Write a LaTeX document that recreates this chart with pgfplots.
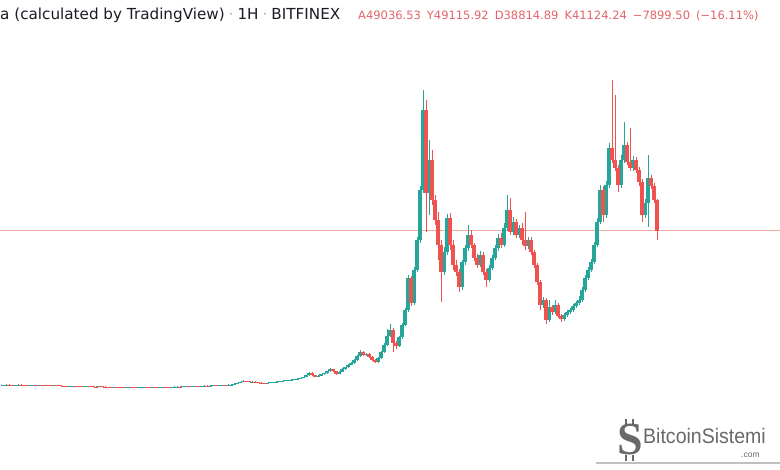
\documentclass[border=0pt]{standalone}
\usepackage{pgfplots}
\pgfplotsset{compat=1.18}
\usepackage{pgfplotstable}
\usepackage{fontspec}
\setmainfont{DejaVu Sans}
\newfontfamily\wmfont{Liberation Sans}
\newfontfamily\logofont{Liberation Serif}
\definecolor{upc}{HTML}{26A69A}
\definecolor{dnc}{HTML}{EF5350}
\definecolor{pline}{RGB}{242,170,160}
\definecolor{hdr}{RGB}{25,28,36}
\definecolor{sepc}{RGB}{170,172,180}
\definecolor{ohlc}{RGB}{226,100,104}
\definecolor{wm}{RGB}{105,105,105}

% columns: i = candle index, o h l c = open high low close
\pgfplotstableread{
i o h l c
0 1780 1900 1700 1820
1 1820 1950 1760 1850
4 1760 1870 1700 1790
5 1790 1980 1740 1900
9 1680 1820 1620 1750
10 1750 1870 1700 1800
12 1780 1900 1730 1820
17 1650 1850 1600 1780
22 1480 1580 1420 1500
23 1500 1640 1450 1560
27 1400 1490 1350 1420
28 1420 1550 1370 1480
32 1380 1480 1320 1420
37 1240 1340 1190 1280
41 1180 1280 1130 1220
42 1220 1310 1170 1260
45 1190 1270 1140 1210
46 1210 1300 1160 1250
47 1250 1360 1200 1300
50 1220 1300 1170 1250
52 1240 1330 1190 1280
53 1280 1380 1230 1320
56 1270 1370 1220 1320
57 1320 1420 1270 1360
58 1360 1460 1310 1400
60 1380 1480 1330 1420
61 1420 1520 1370 1460
63 1440 1560 1390 1500
64 1500 1620 1450 1560
66 1520 1640 1470 1580
67 1580 1690 1530 1620
69 1600 1710 1550 1650
70 1650 1770 1600 1700
72 1680 1800 1630 1740
73 1740 1870 1690 1800
75 1780 1920 1730 1850
76 1850 1980 1800 1900
77 1900 2200 1850 2100
78 2100 2400 2050 2300
79 2300 2600 2250 2500
80 2500 2950 2450 2800
83 2600 2750 2500 2650
88 2250 2420 2180 2350
89 2350 2520 2300 2450
90 2450 2580 2380 2500
91 2500 2680 2440 2600
92 2600 2780 2540 2700
93 2700 2880 2640 2800
94 2800 3050 2740 2950
95 2950 3150 2880 3050
96 3050 3250 2980 3150
97 3150 3400 3080 3300
98 3300 3500 3220 3400
99 3400 3650 3320 3550
100 3550 3950 3480 3800
101 3800 4450 3720 4300
102 4300 5100 4200 4900
105 3900 4250 3800 4100
106 4100 4650 4000 4500
107 4500 4950 4400 4800
108 4800 5450 4700 5300
109 5300 6000 5200 5800
112 4600 5350 4500 5200
113 5200 6000 5100 5800
114 5800 6500 5700 6300
115 6300 7100 6200 6900
116 6900 7700 6800 7400
117 7400 8400 7200 8100
118 8100 9500 7900 9200
119 9200 10700 9000 10200
121 9400 10000 9100 9700
125 7700 8900 7500 8600
126 8600 10500 8400 10200
127 10200 12400 10000 12000
128 12000 16000 11800 14300
129 14300 17300 14000 15800
132 11800 14400 11500 14000
133 14000 17500 13600 17100
134 17100 21500 16800 20900
135 20900 29800 20500 29100
137 22700 31800 22200 31100
138 31100 39500 30500 38800
139 38800 52500 38000 51500
140 51500 77000 50800 71900
142 50700 64300 45100 59200
147 30600 37000 29800 35700
148 35700 45400 35000 44400
153 26800 33700 26000 33200
154 33200 37500 32400 36700
155 36700 42600 36000 40000
159 32400 36000 31900 34900
162 28600 32400 28000 31600
163 31600 35000 31000 34200
164 34200 37500 33600 36700
165 36700 40300 36000 39300
167 37500 43100 37000 41800
168 41800 50200 41000 46400
170 40800 44600 40000 43400
172 40000 42600 39300 41800
175 37200 39500 36500 38800
180 22200 24200 21400 23500
182 18400 23500 17800 21700
184 20400 23500 19800 22200
187 18600 20200 18100 19600
188 19600 21000 19100 20400
189 20400 21500 19900 20900
190 20900 22500 20400 21900
191 21900 23200 21400 22700
192 22700 24500 22200 23500
193 23500 26800 23000 26000
194 26000 29800 25500 29100
195 29100 31900 28600 31100
196 31100 33900 30600 33200
197 33200 38300 32600 37500
198 37500 44400 36900 43400
199 43400 52800 42800 51500
201 45100 53800 44400 52800
202 52800 63500 52000 62200
206 52800 60400 52000 59200
207 59200 68900 58400 63000
210 57100 60200 56300 59200
214 45100 49200 44400 48200
215 48200 60400 42100 54600
}\uptab

\pgfplotstableread{
i o h l c
2 1850 1920 1720 1800
3 1800 1860 1690 1760
6 1900 1960 1780 1850
7 1850 1900 1620 1700
8 1700 1760 1600 1680
11 1800 1860 1720 1780
13 1820 1870 1700 1760
14 1760 1800 1650 1720
15 1720 1780 1640 1700
16 1700 1760 1590 1650
18 1780 1830 1640 1700
19 1700 1740 1540 1600
20 1600 1650 1480 1550
21 1550 1600 1400 1480
24 1560 1620 1460 1520
25 1520 1580 1380 1450
26 1450 1500 1330 1400
29 1480 1540 1390 1450
30 1450 1500 1340 1400
31 1400 1450 1310 1380
33 1420 1470 1300 1360
34 1360 1410 1240 1300
35 1300 1350 1200 1260
36 1260 1310 1180 1240
38 1280 1330 1190 1250
39 1250 1300 1140 1200
40 1200 1250 1120 1180
43 1260 1310 1170 1230
44 1230 1280 1130 1190
48 1300 1350 1200 1260
49 1260 1300 1160 1220
51 1250 1300 1180 1240
54 1320 1370 1240 1300
55 1300 1350 1210 1270
59 1400 1450 1320 1380
62 1460 1510 1380 1440
65 1560 1610 1460 1520
68 1620 1680 1540 1600
71 1700 1760 1620 1680
74 1800 1860 1720 1780
81 2800 2900 2600 2700
82 2700 2800 2500 2600
84 2650 2720 2450 2550
85 2550 2600 2300 2400
86 2400 2450 2200 2300
87 2300 2380 2150 2250
103 4900 5000 4150 4300
104 4300 4400 3750 3900
110 5800 5900 5100 5300
111 5300 5400 4400 4600
120 10200 10500 9100 9400
122 9700 9900 8700 9000
123 9000 9200 7900 8200
124 8200 8400 7300 7700
130 15800 16200 10200 12500
131 12500 13000 11000 11800
136 29100 29600 21900 22700
141 71900 74500 40800 50700
143 59200 61700 47700 48900
144 48900 50200 42600 43900
145 43900 45900 33700 37500
146 37500 38800 23000 30600
149 44400 45600 36200 37500
150 37500 38800 31100 32400
151 32400 33700 29500 30600
152 30600 31400 25500 26800
156 40000 41300 36700 37500
157 37500 38000 33400 34200
158 34200 35200 31600 32400
160 34900 35700 29800 30600
161 30600 31300 26800 28600
166 39300 40500 36700 37500
169 46400 49500 40000 40800
171 43400 44100 39300 40000
173 41800 43100 37500 38800
174 38800 45900 36200 37200
176 38800 39500 35000 35700
177 35700 36200 31600 32400
178 32400 33000 27300 28000
179 28000 28600 20900 22200
181 23500 24000 17300 18400
183 21700 22200 19600 20400
185 22200 22700 18900 19400
186 19400 19900 17800 18600
200 51500 52500 43400 45100
203 62200 79600 58400 59200
204 59200 75700 56300 57100
205 57100 58000 51000 52800
208 63000 63800 57900 58700
209 58700 67300 56300 57100
211 59200 60000 55800 56600
212 56600 57400 52500 53500
213 53500 54300 43400 45100
216 54600 55400 51800 52500
217 52500 53300 48200 49000
218 49036.53 49115.92 38814.89 41124.24
}\dntab

\begin{document}
\begin{tikzpicture}
\useasboundingbox (0,0) rectangle (780pt,470pt);
\fill[white] (0,0) rectangle (780pt,470pt);
\begin{axis}[at={(0,0)}, anchor=south west, scale only axis,
  width=780pt, height=470pt,
  xmin=-1, xmax=259, ymin=-19890, ymax=99960,
  hide axis]
\addplot[pline, line width=0.7pt, forget plot] coordinates {(-1,41124.24) (259,41124.24)};
% wicks (low to high)
\addplot[mark=none, forget plot,
  quiver={u=0, v=\thisrow{h}-\thisrow{l}, every arrow/.append style={draw=upc, line width=1pt}}]
  table[x=i, y=l] {\uptab};
\addplot[mark=none, forget plot,
  quiver={u=0, v=\thisrow{h}-\thisrow{l}, every arrow/.append style={draw=dnc, line width=1pt}}]
  table[x=i, y=l] {\dntab};
% bodies (open to close)
\addplot[mark=none, forget plot,
  quiver={u=0, v=\thisrow{c}-\thisrow{o}, every arrow/.append style={draw=upc, line width=3.4pt}}]
  table[x=i, y=o] {\uptab};
\addplot[mark=none, forget plot,
  quiver={u=0, v=\thisrow{c}-\thisrow{o}, every arrow/.append style={draw=dnc, line width=3.4pt}}]
  table[x=i, y=o] {\dntab};
\end{axis}
% header
\node[anchor=base west, inner sep=0, text=hdr, font=\fontsize{15.2}{16}\selectfont] at (0pt,450pt)
  {a (calculated by TradingView)\hspace{4pt}\textcolor{sepc}{·}\hspace{4pt}1H\hspace{4pt}\textcolor{sepc}{·}\hspace{4pt}BITFINEX};
\node[anchor=base west, inner sep=0, text=ohlc, font=\fontsize{11.5}{13}\selectfont] at (358pt,450pt)
  {A49036.53\hspace{6pt}Y49115.92\hspace{6pt}D38814.89\hspace{6pt}K41124.24\hspace{6pt}−7899.50\hspace{6pt}(−16.11\%)};
% watermark
\node[anchor=base west, inner sep=0, text=wm] at (643pt,26pt)
  {\scalebox{0.93}[1]{\wmfont\fontsize{21}{21}\selectfont BitcoinSistemi}};
\node[anchor=base west, inner sep=0, text=wm, font=\wmfont\fontsize{8.5}{9}\selectfont] at (741pt,12pt) {.com};
\node[inner sep=0, text=wm, font=\logofont\bfseries\fontsize{46}{46}\selectfont] at (630pt,30pt) {S};
\draw[wm, line width=1.6pt] (626pt,45pt) -- (626pt,51pt) (633pt,45pt) -- (633pt,51pt)
  (626pt,9pt) -- (626pt,15pt) (633pt,9pt) -- (633pt,15pt);
\draw[black!25, line width=1.3pt] (596pt,7pt) -- (780pt,7pt);
\end{tikzpicture}
\end{document}
